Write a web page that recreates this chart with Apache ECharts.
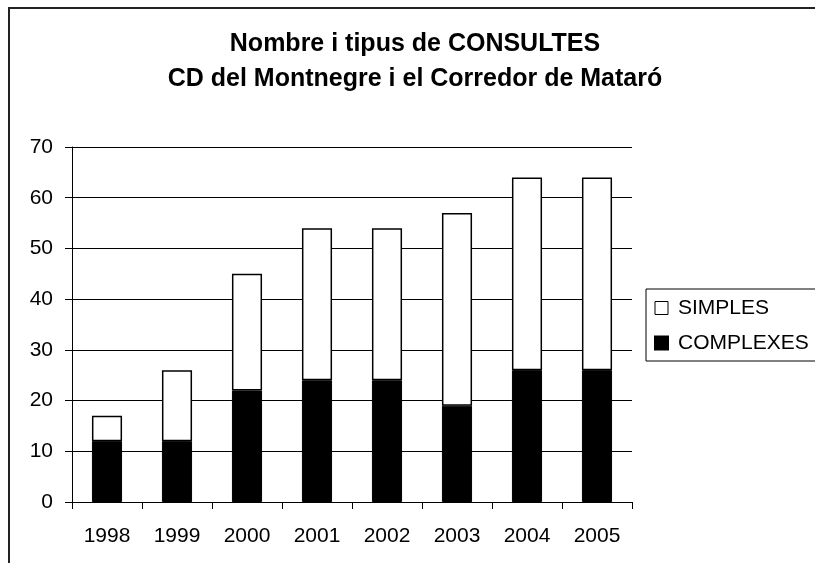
<!DOCTYPE html>
<html>
<head>
<meta charset="utf-8">
<script src="https://cdn.jsdelivr.net/npm/echarts@6/dist/echarts.min.js"></script>
<style>
  html, body { margin: 0; padding: 0; background: #fff; }
  #main { width: 815px; height: 563px; }
</style>
</head>
<body>
<div id="main"></div>
<script>
var years = ['1998', '1999', '2000', '2001', '2002', '2003', '2004', '2005'];
var complexes = [12, 12, 22, 24, 24, 19, 26, 26];
var simples = [5, 14, 23, 30, 30, 38, 38, 38];

var myChart = echarts.init(document.getElementById('main'));

var font = 'Liberation Sans, Arial, sans-serif';

var option = {
  backgroundColor: '#fff',
  animation: false,
  title: {
    text: 'Nombre i tipus de CONSULTES\nCD del Montnegre i el Corredor de Mataró',
    left: 410,
    textAlign: 'center',
    top: 22,
    textStyle: {
      fontFamily: font,
      fontSize: 25,
      fontWeight: 'bold',
      color: '#000',
      lineHeight: 35
    }
  },
  legend: {
    orient: 'vertical',
    left: 646,
    top: 289,
    padding: [7, 60, 6, 8],
    itemGap: 11,
    itemWidth: 13,
    itemHeight: 13,
    borderColor: '#000',
    borderWidth: 1,
    icon: 'rect',
    data: [
      { name: 'SIMPLES', itemStyle: { color: '#fff', borderColor: '#000', borderWidth: 1 } },
      { name: 'COMPLEXES', itemStyle: { color: '#000' } }
    ],
    textStyle: { fontFamily: font, fontSize: 21, color: '#000', lineHeight: 24, padding: [0, 0, 0, 5] }
  },
  grid: {
    left: 72,
    right: 183,
    top: 147,
    bottom: 61
  },
  xAxis: {
    type: 'category',
    data: years,
    axisLine: { show: true, lineStyle: { color: '#000', width: 1 } },
    axisTick: { show: true, alignWithLabel: false, length: 7, lineStyle: { color: '#000' } },
    axisLabel: { fontFamily: font, fontSize: 21, color: '#000', margin: 24 }
  },
  yAxis: {
    type: 'value',
    min: 0,
    max: 70,
    interval: 10,
    axisLine: { show: true, lineStyle: { color: '#000', width: 1 } },
    axisTick: { show: true, length: 7, lineStyle: { color: '#000' } },
    axisLabel: { fontFamily: font, fontSize: 21, color: '#000', margin: 19 },
    splitLine: { show: true, lineStyle: { color: '#000', width: 1 } }
  },
  series: [
    {
      name: 'COMPLEXES',
      type: 'bar',
      stack: 'total',
      barWidth: '43%',
      data: complexes,
      itemStyle: { color: '#000', borderColor: '#000', borderWidth: 1 }
    },
    {
      name: 'SIMPLES',
      type: 'bar',
      stack: 'total',
      barWidth: '43%',
      data: simples,
      itemStyle: { color: '#fff', borderColor: '#000', borderWidth: 1.5 }
    }
  ],
  graphic: [
    {
      type: 'rect',
      shape: { x: 9, y: 8, width: 830, height: 620 },
      style: { fill: 'none', stroke: '#222', lineWidth: 2 },
      silent: true
    }
  ]
};

myChart.setOption(option);
</script>
</body>
</html>
